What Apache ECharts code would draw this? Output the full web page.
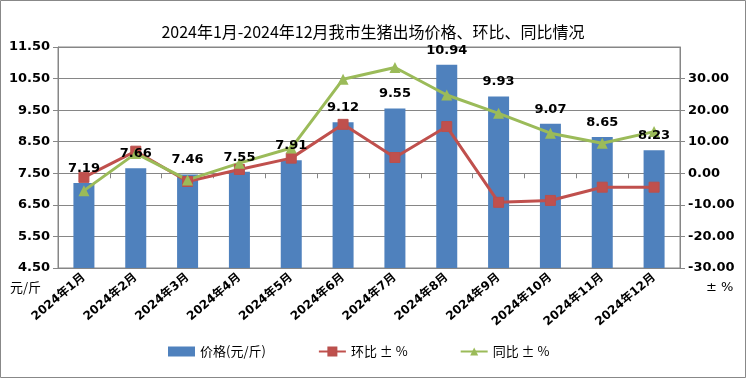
<!DOCTYPE html>
<html><head><meta charset="utf-8">
<script src="https://cdn.jsdelivr.net/npm/echarts@6/dist/echarts.min.js"></script>
<style>html,body{margin:0;padding:0;background:#fff}#c{width:746px;height:378px}</style>
</head><body><div id="c"></div>
<script>
var categories = ['2024年1月','2024年2月','2024年3月','2024年4月','2024年5月','2024年6月','2024年7月','2024年8月','2024年9月','2024年10月','2024年11月','2024年12月'];
var price = [7.19, 7.66, 7.46, 7.55, 7.91, 9.12, 9.55, 10.94, 9.93, 9.07, 8.65, 8.23];
var mom = [-1.3, 7.0, -2.6, 1.2, 4.8, 15.5, 5.0, 14.8, -9.2, -8.6, -4.4, -4.4];
var yoy = [-5.5, 6.3, -2.1, 3.2, 8.0, 29.8, 33.5, 24.8, 19.0, 12.7, 9.5, 13.2];
var title = '2024年1月-2024年12月我市生猪出场价格、环比、同比情况';
var seriesNames = ['价格(元/斤)', '环比 ± %', '同比 ± %'];
var leftUnit = '元/斤', rightUnit = '± %';

var F = 'DejaVu Sans, Noto Sans CJK SC, sans-serif';
var chart = echarts.init(document.getElementById('c'));
chart.setOption({
  backgroundColor: '#fff',
  animation: false,
  title: {text: title, left: 'center', top: 19, textStyle: {fontFamily: 'Noto Sans CJK SC', fontSize: 16, fontWeight: 'normal', color: '#000'}},
  grid: {left: 58, right: 66, top: 47, bottom: 110, show: true, borderColor: '#868686', borderWidth: 1},
  legend: {bottom: 15, left: 163, itemGap: 52, itemWidth: 27, itemHeight: 10,
    textStyle: {fontFamily: 'Noto Sans CJK SC', fontSize: 13, color: '#000'},
    data: [{name: seriesNames[0], icon: 'rect'}, seriesNames[1], seriesNames[2]]},
  xAxis: {type: 'category', data: categories,
    axisLine: {lineStyle: {color: '#868686'}}, axisTick: {show: true, length: 5, lineStyle: {color: '#868686'}},
    axisLabel: {rotate: 40, interval: 0, fontFamily: F, fontSize: 12, fontWeight: 'bold', color: '#000', margin: 8}},
  yAxis: [
    {type: 'value', min: 4.5, max: 11.5, interval: 1,
      axisLine: {show: true, lineStyle: {color: '#868686'}}, axisTick: {show: true, length: 5, lineStyle: {color: '#868686'}},
      splitLine: {lineStyle: {color: '#868686'}},
      axisLabel: {fontFamily: F, fontSize: 13, fontWeight: 'bold', color: '#000', margin: 8, formatter: function(v){return v.toFixed(2);}}},
    {type: 'value', min: -30, max: 40, interval: 10,
      axisLine: {show: true, lineStyle: {color: '#868686'}}, axisTick: {show: true, length: 5, lineStyle: {color: '#868686'}},
      splitLine: {show: false},
      axisLabel: {fontFamily: F, fontSize: 13, fontWeight: 'bold', color: '#000', margin: 8, showMaxLabel: false,
        formatter: function(v){return v >= 40 ? '' : v.toFixed(2);}}}
  ],
  graphic: [
    {type: 'rect', shape: {x: 0.5, y: 0.5, width: 745, height: 377}, style: {fill: 'none', stroke: '#888', lineWidth: 1}, silent: true},
    {type: 'text', left: 10, top: 281, style: {text: leftUnit, font: '13px Noto Sans CJK SC', fill: '#000'}},
    {type: 'text', left: 706, top: 281, style: {text: rightUnit, font: '13px DejaVu Sans', fill: '#000'}}
  ],
  series: [
    {name: seriesNames[0], type: 'bar', data: price, barWidth: 21, itemStyle: {color: '#4F81BD'}, z: 1},
    {name: seriesNames[1], type: 'line', yAxisIndex: 1, data: mom, symbol: 'rect', symbolSize: 10, z: 3,
      lineStyle: {color: '#C0504D', width: 3}, itemStyle: {color: '#C0504D', borderColor: '#B9504D', borderWidth: 1}},
    {name: seriesNames[2], type: 'line', yAxisIndex: 1, data: yoy, symbol: 'triangle', symbolSize: 11, z: 3,
      lineStyle: {color: '#9BBB59', width: 3}, itemStyle: {color: '#9BBB59'}},
    {name: 'labels', type: 'bar', data: price, barWidth: 21, barGap: '-100%', z: 5, silent: true,
      itemStyle: {color: 'rgba(0,0,0,0)'},
      label: {show: true, position: 'top', distance: 8, fontFamily: F, fontSize: 13, fontWeight: 'bold', color: '#000',
        formatter: function(p){return p.value.toFixed(2);}}}
  ]
});
</script></body></html>
